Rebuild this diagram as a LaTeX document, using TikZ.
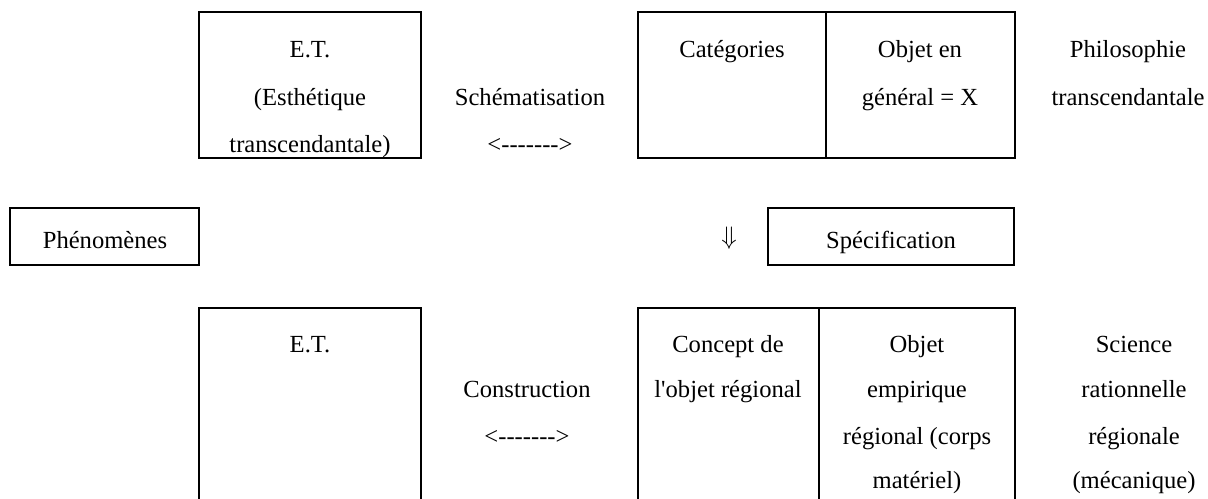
\documentclass[tikz,border=0pt]{standalone}
\usepackage{fontspec}
\setmainfont{Liberation Serif}
\newfontfamily\plainserif{Liberation Serif}

\begin{document}
\begin{tikzpicture}[x=0.02cm, y=-0.02cm, font=\fontsize{14}{16}\selectfont,
    box/.style={line width=1.1pt}, txt/.style={anchor=base}]
    \useasboundingbox (0,0) rectangle (1208,499);

    % top row: boxes
    \draw[box] (199,12) rectangle (421,158);
    \draw[box] (638,12) rectangle (1015,158);
    \draw[box] (826,12) -- (826,158);

    % top row: texts
    \node[txt] (et1) at (310,58) {E.T.};
    \node[txt] (esth) at (310,106) {(Esthétique};
    \node[txt] (transc1) at (310,153) {transcendantale)};
    \node[txt] (schema) at (530,106) {Schématisation};
    \node[txt] (arrow1) at (530,153) {\plainserif <------->};
    \node[txt] (categ) at (732,58) {Catégories};
    \node[txt] (objgen1) at (920,58) {Objet en};
    \node[txt] (objgen2) at (920,106) {général = X};
    \node[txt] (philo) at (1128,58) {Philosophie};
    \node[txt] (transc2) at (1128,106) {transcendantale};

    % middle row
    \draw[box] (10,208) rectangle (199,265);
    \draw[box] (768,208) rectangle (1014,265);
    \node[txt] (phen) at (105,249) {Phénomènes};
    \node (down) at (729,238) {$\Downarrow$};
    \node[txt] (spec) at (891,249) {Spécification};

    % bottom row: boxes (cut off at the bottom)
    \draw[box] (199,499) |- (421,308) -- (421,499);
    \draw[box] (638,499) |- (1015,308) -- (1015,499);
    \draw[box] (819,308) -- (819,499);

    % bottom row: texts
    \node[txt] (et2) at (310,353) {E.T.};
    \node[txt] (constr) at (527,398) {Construction};
    \node[txt] (arrow2) at (527,445) {\plainserif <------->};
    \node[txt] (concept1) at (728,353) {Concept de};
    \node[txt] (concept2) at (728,398) {\plainserif l'objet régional};
    \foreach \txt/\yy [count=\i] in {Objet/353, empirique/398, régional (corps/445, matériel)/489} {
        \node[txt] (emp\i) at (917,\yy) {\txt};
    }
    \foreach \txt/\yy [count=\i] in {Science/353, rationnelle/398, régionale/445, (mécanique)/489} {
        \node[txt] (sci\i) at (1134,\yy) {\txt};
    }
\end{tikzpicture}
\end{document}
